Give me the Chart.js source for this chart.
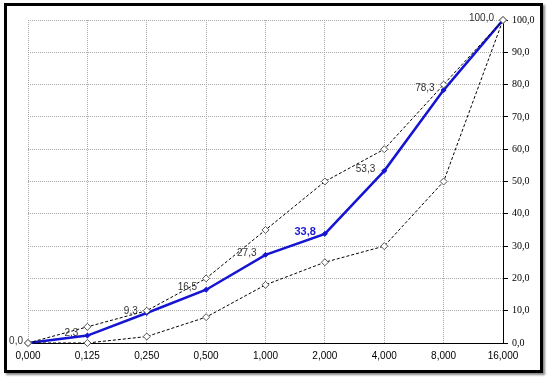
<!DOCTYPE html>
<html>
<head>
<meta charset="utf-8">
<script src="https://cdn.jsdelivr.net/npm/chart.js@4"></script>
<style>
  html, body { margin: 0; padding: 0; background: #fff; }
  #wrap { position: relative; width: 550px; height: 380px; }
  #frame { position: absolute; left: 4px; top: 3px; width: 533px; height: 364px;
           border: 3px solid #000; box-shadow: 2px 2px 2px #888; }
  canvas { position: absolute; left: 0; top: 0; }
</style>
</head>
<body>
<div id="wrap">
  <div id="frame"></div>
  <canvas id="c" width="550" height="380"></canvas>
</div>
<script>
const categories = ["0,000", "0,125", "0,250", "0,500", "1,000", "2,000", "4,000", "8,000", "16,000"];
const sampleValues = [0, 2.3, 9.3, 16.5, 27.3, 33.8, 53.3, 78.3, 100];
const upperLimit = [0, 5, 10, 20, 35, 50, 60, 80, 100];
const lowerLimit = [0, 0, 2, 8, 18, 25, 30, 50, 100];
const highlightIndex = 5;

const fmt = v => v.toFixed(1).replace('.', ',');

const labelPlugin = {
  id: 'valueLabels',
  afterDatasetsDraw(chart) {
    const ctx = chart.ctx;
    const idx = chart.data.datasets.findIndex(d => d.showLabels);
    const meta = chart.getDatasetMeta(idx);
    const ds = chart.data.datasets[idx];
    ctx.save();
    ctx.textAlign = 'right';
    ctx.textBaseline = 'middle';
    meta.data.forEach((pt, i) => {
      const hi = i === highlightIndex;
      ctx.font = (hi ? 'bold 11px' : '10px') + ' "Liberation Sans", Arial, sans-serif';
      ctx.fillStyle = hi ? '#1a1ad6' : '#333';
      const dx = i === 0 ? 5 : 9;
      ctx.fillText(fmt(ds.data[i]), pt.x - dx, pt.y - 2);
    });
    ctx.restore();
  }
};

new Chart(document.getElementById('c'), {
  type: 'line',
  data: {
    labels: categories,
    datasets: [
      {
        data: upperLimit, borderColor: '#000', borderWidth: 1, borderDash: [3, 2],
        pointStyle: 'rectRot', pointRadius: 3.5, pointBackgroundColor: '#fff',
        pointBorderColor: '#555', pointBorderWidth: 1, tension: 0, clip: false
      },
      {
        data: lowerLimit, borderColor: '#000', borderWidth: 1, borderDash: [3, 2],
        pointStyle: 'rectRot', pointRadius: 3.5, pointBackgroundColor: '#fff',
        pointBorderColor: '#555', pointBorderWidth: 1, tension: 0, clip: false
      },
      {
        data: sampleValues, borderColor: '#1414d2', borderWidth: 2.5,
        pointStyle: 'rectRot', pointRadius: 2.5, pointBackgroundColor: '#1414d2',
        pointBorderColor: '#1414d2', pointBorderWidth: 1, tension: 0, clip: false,
        showLabels: true
      }
    ]
  },
  options: {
    responsive: false,
    animation: false,
    layout: { padding: { left: 28, top: 20, right: 0, bottom: 0 } },
    plugins: { legend: { display: false }, tooltip: { enabled: false } },
    scales: {
      x: {
        offset: false,
        grid: { color: '#a8a8a8', drawTicks: false, lineWidth: 1 },
        border: { color: '#000', width: 1, dash: [1, 1] },
        ticks: { color: '#000', padding: 7, maxRotation: 0, autoSkip: false,
                 font: { family: '"Liberation Sans", Arial, sans-serif', size: 10 } },
        afterFit: s => { s.height = 37; }
      },
      y: {
        position: 'right',
        min: 0, max: 100,
        grid: { color: '#a8a8a8', lineWidth: 1, drawTicks: true, tickLength: 5,
                tickColor: '#000', tickBorderDash: [] },
        border: { color: '#000', width: 1, dash: [1, 1] },
        ticks: { stepSize: 10, color: '#000', padding: 4,
                 font: { family: '"Liberation Serif", "Times New Roman", serif', size: 10 },
                 callback: v => fmt(v) },
        afterFit: s => { s.width = 47; }
      }
    }
  },
  plugins: [labelPlugin]
});
</script>
</body>
</html>
